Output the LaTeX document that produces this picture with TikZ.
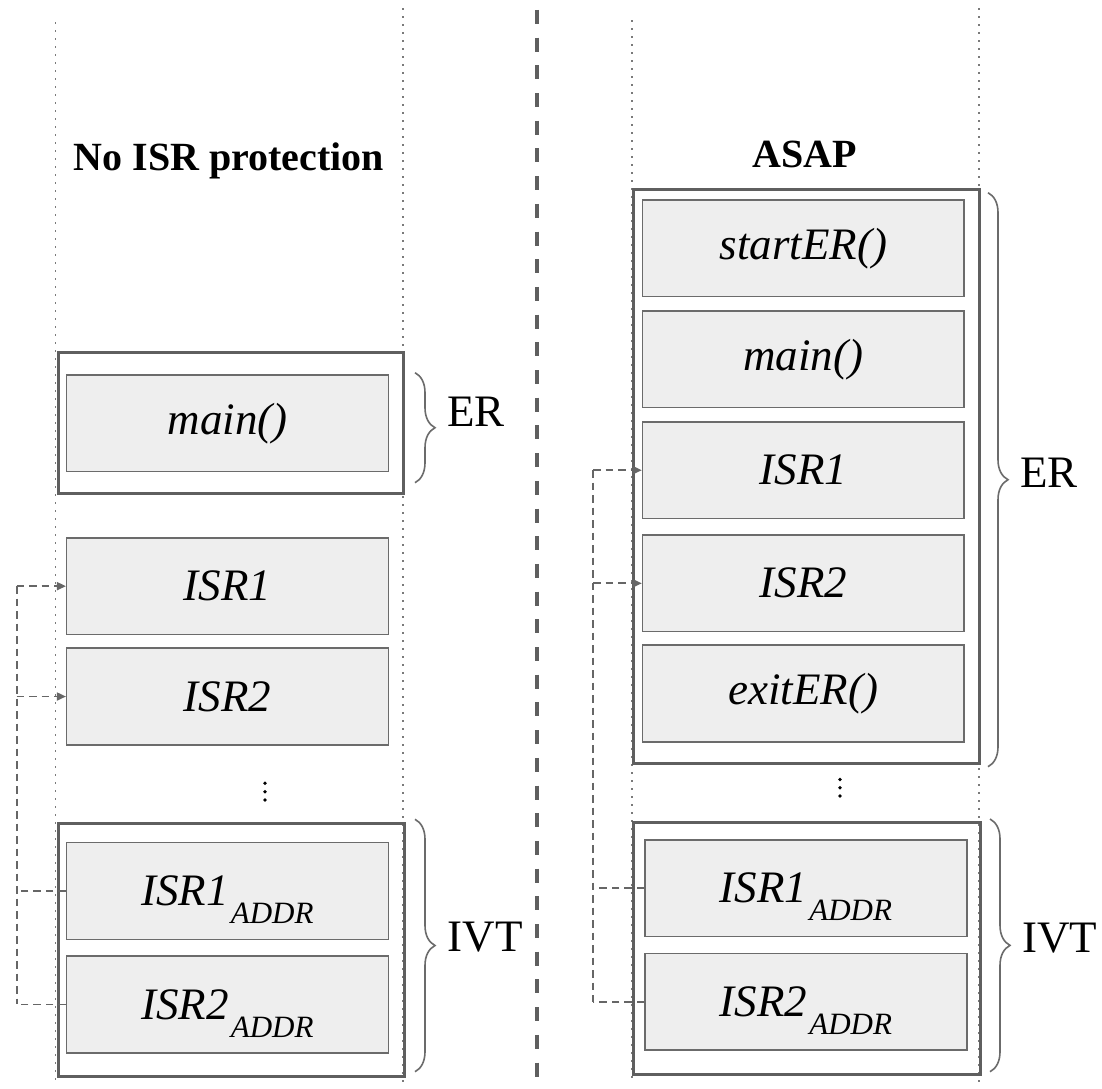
\documentclass[tikz,border=0pt]{standalone}
\usepackage{fontspec}
\setmainfont{Liberation Serif}
\usetikzlibrary{arrows.meta,decorations.pathreplacing}
\definecolor{boxedge}{HTML}{5F5F5F}
\definecolor{celledge}{HTML}{6B6B6B}
\definecolor{cellfill}{HTML}{EEEEEE}
\definecolor{guide}{HTML}{7A7A7A}
\definecolor{linkc}{HTML}{666666}
% name with a lowered ADDR subscript that does not change the line height
\newcommand{\addrtext}[1]{#1\kern2pt\raisebox{-18pt}[0pt][0pt]{\fontsize{31}{31}\selectfont ADDR}}
\begin{document}
\begin{tikzpicture}[x=1pt,y=-1pt,
  outerbox/.style={draw=boxedge, line width=3pt, inner sep=0pt, anchor=north west},
  cell/.style={draw=celledge, line width=1.5pt, fill=cellfill, minimum width=321.6pt,
    minimum height=96.7pt, inner sep=0pt, font=\fontsize{45}{54}\selectfont\itshape},
  title/.style={font=\fontsize{40}{48}\selectfont\bfseries, anchor=base, inner sep=0pt},
  side/.style={font=\fontsize{45}{54}\selectfont, anchor=base west, inner sep=0pt},
  guideline/.style={draw=guide, line width=1.6pt, dash pattern=on 1.6pt off 6.4pt},
  bracket/.style={draw=celledge, line width=1.6pt, decorate, decoration={brace, amplitude=20pt}},
  link/.style={draw=linkc, line width=1.7pt, dash pattern=on 7.5pt off 5pt},
  tolink/.style={link, -{Triangle[length=9pt,width=8pt]}},
  dot/.style={circle, fill=black, inner sep=0pt, minimum size=3.8pt}
]
\useasboundingbox[fill=white] (0,0) rectangle (1102,1088);

% dotted column guides
\draw[guideline] (55.3,22) -- (55.3,1082);
\draw[guideline] (403,8) -- (403,1082);
\draw[guideline] (632,20) -- (632,1082);
\draw[guideline] (979,8) -- (979,1082);

% separator between the two layouts
\draw[line width=4pt, draw=boxedge, dash pattern=on 14pt off 13.7pt] (537.3,9.9) -- (537.3,1088);

% titles
\node[title] (ltitle) at (229,170) {No ISR protection};
\node[title] (rtitle) at (805,167) {ASAP};

% ---------- left layout ----------
\node[outerbox, minimum width=345.2pt, minimum height=141.2pt] (lER) at (56.5,350.5) {};
\node[outerbox, minimum width=346pt, minimum height=253.3pt] (lIVT) at (57,821.7) {};

\node[cell] (lmain) at (227.5,423.35) {main()};
\node[cell] (lisr1) at (227.5,586.15) {ISR1};
\node[cell] (lisr2) at (227.5,696.5) {ISR2};
\node[cell] (lisr1a) at (227.5,891) {\addrtext{ISR1}};
\node[cell] (lisr2a) at (227.5,1004.4) {\addrtext{ISR2}};

\node[dot] (ld1) at (265,783.3) {};
\node[dot] (ld2) at (265,791.7) {};
\node[dot] (ld3) at (265,800) {};

\draw[bracket] (415,372.7) -- (415,482.7);
\draw[bracket] (415,819.3) -- (415,1071.7);
\node[side] (lERlab) at (447,426.7) {ER};
\node[side] (lIVTlab) at (447.7,951.7) {IVT};

\coordinate (lbus) at (16.7,800);
\draw[link] (lbus |- lisr1.west) -- (lbus |- lisr2a.west);
\draw[tolink] (lbus |- lisr1.west) -- (lisr1.west);
\draw[tolink] (lbus |- lisr2.west) -- (lisr2.west);
\draw[link] (lisr1a.west) -- (lbus |- lisr1a.west);
\draw[link] (lisr2a.west) -- (lbus |- lisr2a.west);

% ---------- right layout ----------
\node[outerbox, minimum width=346.3pt, minimum height=573.7pt] (rER) at (631.7,188.3) {};
\node[outerbox, minimum width=347pt, minimum height=252.3pt] (rIVT) at (631.7,820.7) {};

\node[cell] (rstart) at (803.35,248.3) {startER()};
\node[cell] (rmain) at (803.35,359.3) {main()};
\node[cell] (risr1) at (803.35,470.2) {ISR1};
\node[cell] (risr2) at (803.35,583.3) {ISR2};
\node[cell] (rexit) at (803.35,693.4) {exitER()};
\node[cell] (risr1a) at (806,888.3) {\addrtext{ISR1}};
\node[cell] (risr2a) at (806,1001.7) {\addrtext{ISR2}};

\node[dot] (rd1) at (840,779.5) {};
\node[dot] (rd2) at (840,787.7) {};
\node[dot] (rd3) at (840,796) {};

\draw[bracket] (988,192.7) -- (988,766.7);
\draw[bracket] (990,819) -- (990,1071.7);
\node[side] (rERlab) at (1020,487) {ER};
\node[side] (rIVTlab) at (1022,952) {IVT};

\coordinate (rbus) at (593,800);
\draw[link] (rbus |- risr1.west) -- (rbus |- risr2a.west);
\draw[tolink] (rbus |- risr1.west) -- (risr1.west);
\draw[tolink] (rbus |- risr2.west) -- (risr2.west);
\draw[link] (risr1a.west) -- (rbus |- risr1a.west);
\draw[link] (risr2a.west) -- (rbus |- risr2a.west);
\end{tikzpicture}
\end{document}
